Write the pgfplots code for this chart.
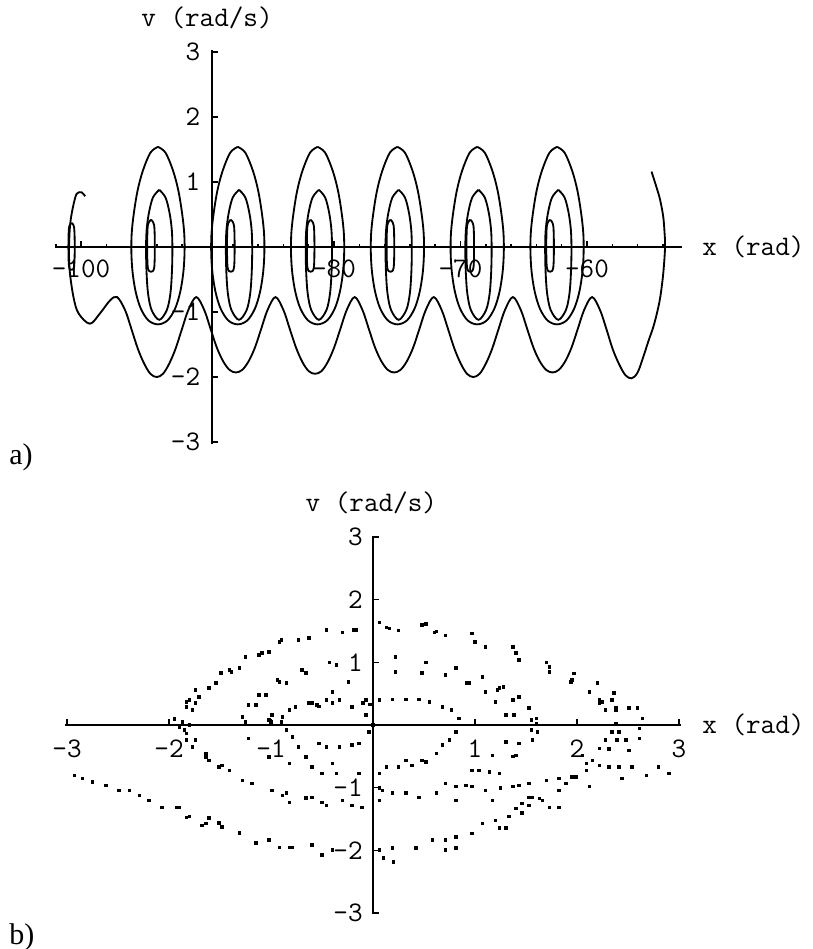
\documentclass[border=0pt]{standalone}
\usepackage{pgfplots}
\pgfplotsset{compat=1.18}
\usepackage{fontspec}
\setmainfont{Liberation Serif}
\newcommand{\lblfont}{\fontsize{17}{20}\selectfont\ttfamily}
\begin{document}
\begin{tikzpicture}
\path[use as bounding box] (0pt,0pt) rectangle (487.2pt,-569.4pt);
\pgfplotsset{
  phase/.style={
    scale only axis,
    axis lines=middle,
    axis line style={line width=1.5pt,-},
    tick style={line width=0.9pt,black},
    tick align=inside,
    major tick length=3.4pt,
    minor tick length=1.9pt,
    ticklabel style={font=\lblfont,inner sep=0pt},
    clip=false,
  },
  traj/.style={black,solid,line width=1.1pt,smooth,tension=0.55,mark=none},
}
% ---------------- panel a ----------------
\begin{axis}[phase,
  at={(33pt,-266.4pt)}, anchor=south west,
  width=376.2pt, height=236.4pt,
  x coord trafo/.code={\pgfmathparse{#1+89.64}},
  x coord inv trafo/.code={\pgfmathparse{#1-89.64}},
  xmin=-102.06, xmax=-52.49, ymin=-3.03, ymax=3.03,
  xtick={-100,-80,-70,-60},
  xticklabels={-100,-80,-70,-60},
  minor xtick={-102,-98,-96,-94,-92,-88,-86,-84,-82,-78,-76,-74,-72,-68,-66,-64,-62,-58,-56,-54},
  ytick={-3,-2,-1,1,2,3},
  yticklabels={-3,-2,-1,1,2,3},
  minor y tick num=4,
  xticklabel style={anchor=north,yshift=-7.5pt},
  yticklabel style={anchor=east,xshift=-7pt},
  xlabel={x (rad)}, ylabel={v (rad/s)},
  every axis x label/.style={at={(rel axis cs:1,0.5)},anchor=west,xshift=12pt,font=\lblfont,inner sep=0pt},
  every axis y label/.style={at={(rel axis cs:0.2504,1)},anchor=center,yshift=19.2pt,xshift=-3pt,font=\lblfont,inner sep=0pt},
]
% long trajectory: left hook, rotating wavy part, right arc
\addplot[traj] coordinates {
(-99.68,0.78) (-99.95,0.84) (-100.34,0.82) (-100.6,0.65) (-100.85,0.37) (-100.95,0) (-100.9,-0.36) (-100.6,-0.77) (-100.2,-1.02) (-99.3,-1.18) (-98.5,-1.02) (-97.7,-0.82) (-97.15,-0.77)
(-96.52,-0.97) (-96.02,-1.26) (-95.52,-1.56) (-95.02,-1.79) (-94.52,-1.95) (-94.02,-2.0) (-93.52,-1.95) (-93.02,-1.79) (-92.52,-1.56) (-92.02,-1.26) (-91.52,-0.97) (-90.89,-0.77)
(-90.26,-0.97) (-89.76,-1.26) (-89.26,-1.55) (-88.76,-1.76) (-88.26,-1.89) (-87.76,-1.93) (-87.26,-1.89) (-86.76,-1.76) (-86.26,-1.55) (-85.76,-1.26) (-85.26,-0.97) (-84.63,-0.77)
(-84.0,-0.97) (-83.5,-1.26) (-83.0,-1.55) (-82.5,-1.77) (-82.0,-1.91) (-81.5,-1.95) (-81.0,-1.91) (-80.5,-1.77) (-80.0,-1.55) (-79.5,-1.26) (-79.0,-0.97) (-78.37,-0.77)
(-77.75,-0.97) (-77.25,-1.26) (-76.75,-1.55) (-76.25,-1.76) (-75.75,-1.89) (-75.25,-1.93) (-74.75,-1.89) (-74.25,-1.76) (-73.75,-1.55) (-73.25,-1.26) (-72.75,-0.97) (-72.12,-0.77)
(-71.49,-0.97) (-70.99,-1.26) (-70.49,-1.56) (-69.99,-1.79) (-69.49,-1.95) (-68.99,-2.0) (-68.49,-1.95) (-67.99,-1.79) (-67.49,-1.56) (-66.99,-1.26) (-66.49,-0.97) (-65.86,-0.77)
(-65.23,-0.97) (-64.73,-1.26) (-64.23,-1.55) (-63.73,-1.76) (-63.23,-1.89) (-62.73,-1.93) (-62.23,-1.89) (-61.73,-1.76) (-61.23,-1.55) (-60.73,-1.26) (-60.23,-0.97) (-59.6,-0.77)
(-58.97,-0.97) (-58.47,-1.26) (-57.97,-1.57) (-57.47,-1.8) (-56.97,-1.97) (-56.47,-2.02) (-56.0,-1.93) (-55.55,-1.69) (-55.15,-1.45) (-54.76,-1.23) (-54.45,-1.0) (-54.2,-0.76) (-53.97,-0.40) (-53.83,0) (-53.88,0.25) (-53.97,0.46) (-54.15,0.66) (-54.35,0.82) (-54.9,1.16)
};
% left small loop
\addplot[traj] coordinates {(-100.75,0.37) (-100.55,0.3) (-100.5,0) (-100.55,-0.3) (-100.75,-0.35) (-100.95,-0.3) (-101.0,0) (-100.95,0.3) (-100.75,0.37)};
% cell 1
\addplot[traj] coordinates {(-93.92,1.54) (-93.32,1.45) (-92.72,1.17) (-92.30,0.86) (-92.00,0.5) (-91.84,0.2) (-91.82,-0.1) (-91.92,-0.4) (-92.17,-0.7) (-92.57,-0.95) (-93.17,-1.13) (-93.92,-1.19) (-94.67,-1.13) (-95.27,-0.95) (-95.67,-0.7) (-95.92,-0.4) (-96.02,-0.1) (-96.00,0.2) (-95.84,0.5) (-95.54,0.86) (-95.12,1.17) (-94.52,1.45) (-93.92,1.54)};
\addplot[traj] coordinates {(-93.82,0.88) (-93.32,0.76) (-93.00,0.52) (-92.82,0.25) (-92.78,-0.05) (-92.82,-0.4) (-92.94,-0.72) (-93.22,-0.97) (-93.82,-1.12) (-94.42,-0.97) (-94.70,-0.72) (-94.82,-0.4) (-94.86,-0.05) (-94.82,0.25) (-94.64,0.52) (-94.32,0.76) (-93.82,0.88)};
\addplot[traj] coordinates {(-94.47,0.42) (-94.22,0.33) (-94.17,0) (-94.22,-0.32) (-94.47,-0.38) (-94.72,-0.32) (-94.77,0) (-94.72,0.33) (-94.47,0.42)};
% cell 2
\addplot[traj] coordinates {(-87.61,1.54) (-87.01,1.45) (-86.41,1.17) (-85.99,0.86) (-85.69,0.5) (-85.53,0.2) (-85.51,-0.1) (-85.61,-0.4) (-85.86,-0.7) (-86.26,-0.95) (-86.86,-1.13) (-87.61,-1.19) (-88.36,-1.13) (-88.96,-0.95) (-89.36,-0.7) (-89.61,-0.4) (-89.71,-0.1) (-89.69,0.2) (-89.53,0.5) (-89.23,0.86) (-88.81,1.17) (-88.21,1.45) (-87.61,1.54)};
\addplot[traj] coordinates {(-87.51,0.88) (-87.01,0.76) (-86.69,0.52) (-86.51,0.25) (-86.47,-0.05) (-86.51,-0.4) (-86.63,-0.72) (-86.91,-0.97) (-87.51,-1.12) (-88.11,-0.97) (-88.39,-0.72) (-88.51,-0.4) (-88.55,-0.05) (-88.51,0.25) (-88.33,0.52) (-88.01,0.76) (-87.51,0.88)};
\addplot[traj] coordinates {(-88.16,0.42) (-87.91,0.33) (-87.86,0) (-87.91,-0.32) (-88.16,-0.38) (-88.41,-0.32) (-88.46,0) (-88.41,0.33) (-88.16,0.42)};
% cell 3
\addplot[traj] coordinates {(-81.30,1.54) (-80.70,1.45) (-80.10,1.17) (-79.68,0.86) (-79.38,0.5) (-79.22,0.2) (-79.20,-0.1) (-79.30,-0.4) (-79.55,-0.7) (-79.95,-0.95) (-80.55,-1.13) (-81.30,-1.19) (-82.05,-1.13) (-82.65,-0.95) (-83.05,-0.7) (-83.30,-0.4) (-83.40,-0.1) (-83.38,0.2) (-83.22,0.5) (-82.92,0.86) (-82.50,1.17) (-81.90,1.45) (-81.30,1.54)};
\addplot[traj] coordinates {(-81.20,0.88) (-80.70,0.76) (-80.38,0.52) (-80.20,0.25) (-80.16,-0.05) (-80.20,-0.4) (-80.32,-0.72) (-80.60,-0.97) (-81.20,-1.12) (-81.80,-0.97) (-82.08,-0.72) (-82.20,-0.4) (-82.24,-0.05) (-82.20,0.25) (-82.02,0.52) (-81.70,0.76) (-81.20,0.88)};
\addplot[traj] coordinates {(-81.85,0.42) (-81.60,0.33) (-81.55,0) (-81.60,-0.32) (-81.85,-0.38) (-82.10,-0.32) (-82.15,0) (-82.10,0.33) (-81.85,0.42)};
% cell 4
\addplot[traj] coordinates {(-74.99,1.54) (-74.39,1.45) (-73.79,1.17) (-73.37,0.86) (-73.07,0.5) (-72.91,0.2) (-72.89,-0.1) (-72.99,-0.4) (-73.24,-0.7) (-73.64,-0.95) (-74.24,-1.13) (-74.99,-1.19) (-75.74,-1.13) (-76.34,-0.95) (-76.74,-0.7) (-76.99,-0.4) (-77.09,-0.1) (-77.07,0.2) (-76.91,0.5) (-76.61,0.86) (-76.19,1.17) (-75.59,1.45) (-74.99,1.54)};
\addplot[traj] coordinates {(-74.89,0.88) (-74.39,0.76) (-74.07,0.52) (-73.89,0.25) (-73.85,-0.05) (-73.89,-0.4) (-74.01,-0.72) (-74.29,-0.97) (-74.89,-1.12) (-75.49,-0.97) (-75.77,-0.72) (-75.89,-0.4) (-75.93,-0.05) (-75.89,0.25) (-75.71,0.52) (-75.39,0.76) (-74.89,0.88)};
\addplot[traj] coordinates {(-75.54,0.42) (-75.29,0.33) (-75.24,0) (-75.29,-0.32) (-75.54,-0.38) (-75.79,-0.32) (-75.84,0) (-75.79,0.33) (-75.54,0.42)};
% cell 5
\addplot[traj] coordinates {(-68.68,1.54) (-68.08,1.45) (-67.48,1.17) (-67.06,0.86) (-66.76,0.5) (-66.60,0.2) (-66.58,-0.1) (-66.68,-0.4) (-66.93,-0.7) (-67.33,-0.95) (-67.93,-1.13) (-68.68,-1.19) (-69.43,-1.13) (-70.03,-0.95) (-70.43,-0.7) (-70.68,-0.4) (-70.78,-0.1) (-70.76,0.2) (-70.60,0.5) (-70.30,0.86) (-69.88,1.17) (-69.28,1.45) (-68.68,1.54)};
\addplot[traj] coordinates {(-68.58,0.88) (-68.08,0.76) (-67.76,0.52) (-67.58,0.25) (-67.54,-0.05) (-67.58,-0.4) (-67.70,-0.72) (-67.98,-0.97) (-68.58,-1.12) (-69.18,-0.97) (-69.46,-0.72) (-69.58,-0.4) (-69.62,-0.05) (-69.58,0.25) (-69.40,0.52) (-69.08,0.76) (-68.58,0.88)};
\addplot[traj] coordinates {(-69.23,0.42) (-68.98,0.33) (-68.93,0) (-68.98,-0.32) (-69.23,-0.38) (-69.48,-0.32) (-69.53,0) (-69.48,0.33) (-69.23,0.42)};
% cell 6
\addplot[traj] coordinates {(-62.37,1.54) (-61.77,1.45) (-61.17,1.17) (-60.75,0.86) (-60.45,0.5) (-60.29,0.2) (-60.27,-0.1) (-60.37,-0.4) (-60.62,-0.7) (-61.02,-0.95) (-61.62,-1.13) (-62.37,-1.19) (-63.12,-1.13) (-63.72,-0.95) (-64.12,-0.7) (-64.37,-0.4) (-64.47,-0.1) (-64.45,0.2) (-64.29,0.5) (-63.99,0.86) (-63.57,1.17) (-62.97,1.45) (-62.37,1.54)};
\addplot[traj] coordinates {(-62.27,0.88) (-61.77,0.76) (-61.45,0.52) (-61.27,0.25) (-61.23,-0.05) (-61.27,-0.4) (-61.39,-0.72) (-61.67,-0.97) (-62.27,-1.12) (-62.87,-0.97) (-63.15,-0.72) (-63.27,-0.4) (-63.31,-0.05) (-63.27,0.25) (-63.09,0.52) (-62.77,0.76) (-62.27,0.88)};
\addplot[traj] coordinates {(-62.92,0.42) (-62.67,0.33) (-62.62,0) (-62.67,-0.32) (-62.92,-0.38) (-63.17,-0.32) (-63.22,0) (-63.17,0.33) (-62.92,0.42)};
\end{axis}
% ---------------- panel b ----------------
\begin{axis}[phase,
  at={(39pt,-548.64pt)}, anchor=south west,
  width=369.6pt, height=227.28pt,
  xmin=-3.02, xmax=3.02, ymin=-3.02, ymax=3.02,
  xtick={-3,-2,-1,1,2,3},
  xticklabels={-3,-2,-1,1,2,3},
  ytick={-3,-2,-1,1,2,3},
  yticklabels={-3,-2,-1,1,2,3},
  minor x tick num=4, minor y tick num=4,
  xticklabel style={anchor=north,yshift=-8.5pt},
  yticklabel style={anchor=east,xshift=-6pt},
  xlabel={x (rad)}, ylabel={v (rad/s)},
  every axis x label/.style={at={(rel axis cs:1,0.5)},anchor=west,xshift=12.6pt,font=\lblfont,inner sep=0pt},
  every axis y label/.style={at={(rel axis cs:0.5,1)},anchor=center,yshift=19.6pt,xshift=-1pt,font=\lblfont,inner sep=0pt},
]
\addplot[only marks, mark=square*, mark size=0.75pt, black] coordinates {
(-2.93,-0.8) (-2.85,-0.85) (-2.75,-0.91) (-2.62,-0.96) (-2.49,-1.04) (-2.39,-1.04) (-2.29,-1.12) (-2.2,-1.2) (-2.07,-1.31) (-1.93,-1.31) (-1.83,-1.47) (-1.68,-1.6) (-1.61,-1.48) (-1.51,-1.56) (-1.31,-1.72) (-1.15,-1.88) (-1.02,-1.83) (-0.82,-1.95) (-0.6,-1.91) (-0.5,-2.07) (-0.4,-1.99) (-0.92,-1.95) (-0.79,-1.95) (-1.48,-1.62) (-1.64,-1.57) (-1.8,-1.46) (-1.9,-1.31)
(0.06,-1.99) (0.19,-1.96) (0.42,-1.96) (0.58,-1.83) (0.71,-1.83) (0.81,-1.78) (0.81,-1.96) (0.97,-1.73) (1.07,-1.57) (1.2,-1.52) (1.33,-1.46) (1.4,-1.33) (1.46,-1.25) (1.56,-1.15) (1.66,-1.2) (1.82,-1.31) (0.71,-1.99) (1.24,-1.64) (1.3,-1.64) (1.46,-1.4) (1.53,-1.28) (1.73,-1.31) (0.1,-2.12) (0.2,-2.18)
(1.82,-0.85) (1.95,-0.83) (2.09,-0.72) (2.22,-0.64) (2.31,-0.67) (2.41,-0.67) (2.44,-0.85) (2.54,-0.67) (2.68,-0.8) (2.8,-0.67) (2.9,-0.77) (2.12,-0.98) (1.82,-1.04) (1.7,-0.88) (1.89,-0.93) (1.99,-0.83)
(-1.83,-0.13) (-1.74,-0.24) (-1.64,-0.51) (-1.51,-0.67) (-1.41,-0.72) (-1.28,-0.88) (-1.19,-0.93) (-0.99,-1.04) (-0.85,-1.08) (-0.66,-1.16) (-0.6,-1.15) (-0.5,-1.23) (-0.3,-1.2) (-0.21,-1.28) (-0.11,-1.31) (-1.83,-0.24) (-1.77,-0.35) (-1.64,-0.45) (-1.61,-0.56) (-1.48,-0.64) (-0.89,-1.12) (-0.82,-1.23) (-0.46,-1.28)
(0.06,-1.2) (0.09,-1.04) (0.19,-1.08) (0.32,-1.08) (0.45,-1.15) (0.62,-1.08) (0.71,-0.93) (0.81,-0.98) (0.81,-1.2) (0.91,-0.96) (0.97,-0.98) (1.1,-1.04) (1.17,-1.2) (1.25,-1.0) (1.37,-0.98) (1.43,-0.96) (1.53,-1.15) (1.53,-0.93) (1.63,-1.17) (0.06,-1.0)
(-1.22,-0.21) (-1.02,-0.51) (-0.82,-0.61) (-0.66,-0.51) (-0.6,-0.67) (-0.5,-0.77) (-0.4,-0.61) (-0.36,-0.77) (-0.14,-0.77) (0.06,-0.77)
(-0.82,0.24) (-0.89,0.13) (-0.76,0.29) (-0.6,0.35) (-0.53,0.3) (-0.46,0.4) (-0.33,0.4) (-0.21,0.29) (-0.07,0.4) (0.06,0.4) (0.19,0.41) (0.32,0.41) (0.45,0.41) (0.55,0.37) (0.68,0.29) (0.77,0.24) (0.84,0.11) (0.81,-0.11) (0.75,-0.24) (0.68,-0.32) (0.62,-0.45) (0.52,-0.59) (0.38,-0.64) (0.25,-0.67) (0.13,-0.67) (0.48,-0.56) (0.32,-0.56) (-0.14,-0.29) (-0.21,-0.32) (-0.33,-0.35) (-0.46,-0.35) (-0.53,-0.29) (-0.73,-0.35) (-0.79,-0.19) (-0.85,-0.08) (-0.63,0.35) (-0.4,0.35) (-0.1,0.35) (-0.03,0.33) (-0.9,0.05) (-1.0,0.05) (-1.25,0.05) (-0.07,0.16) (-0.04,-0.11) (0,0) (-0.55,0.32)
(0.22,1.09) (0.22,0.85) (0.52,1.0) (0.48,0.83) (0.71,0.8) (0.81,0.91) (0.94,0.67) (1.07,0.77) (1.1,0.53) (1.24,0.59) (1.2,0.37) (1.37,0.4) (1.43,0.45) (1.3,0.16) (1.38,0.16) (1.53,0.27) (1.6,0.11) (1.55,0.08) (1.6,0.03) (1.61,-0.11) (1.55,-0.08) (1.56,-0.24) (1.43,-0.29) (1.3,-0.27) (1.17,-0.48) (1.37,-0.5) (1.4,-0.48) (1.04,-0.72) (1.14,-0.75) (1.24,-0.77) (0.97,-0.72) (0.92,0.67) (1.28,0.61) (1.22,0.56)
(0.06,1.64) (0.16,1.54) (0.25,1.51) (0.52,1.61) (0.62,1.49) (0.71,1.43) (0.97,1.46) (1.0,1.33) (1.1,1.25) (1.37,1.25) (1.4,1.15) (1.43,1.04) (1.7,1.0) (1.73,0.93) (1.95,0.72) (1.73,0.85) (1.97,0.82) (1.94,0.69) (2.12,0.53) (2.2,0.67) (2.36,0.51) (2.25,0.37) (2.22,0.4) (2.38,0.27) (2.59,0.27) (0.13,1.56) (0.48,1.6) (0.6,1.48)
(2.22,0.35) (2.34,0.4) (2.28,0.24) (2.38,0.24) (2.51,0.27) (2.64,0.11) (2.38,0.03) (2.34,-0.11) (2.41,-0.11) (2.61,-0.05) (2.28,-0.24) (2.39,-0.24) (2.48,-0.24) (2.61,-0.21) (2.22,-0.37) (2.31,-0.38) (2.51,-0.4) (2.15,-0.56) (2.09,-0.61) (2.05,-0.48)
(-1.83,0.37) (-1.74,0.56) (-1.71,0.45) (-1.61,0.59) (-1.54,0.67) (-1.49,0.83) (-1.39,0.85) (-1.31,0.91) (-1.25,1.09) (-1.12,1.12) (-1.02,1.17) (-0.9,1.36) (-0.73,1.36) (-0.63,1.39) (-0.46,1.52) (-0.3,1.48) (-0.17,1.52) (-1.8,0.4) (-1.83,0.29) (-1.41,0.88) (-1.09,1.15) (-0.92,1.33) (-0.19,1.52)
(-1.87,0.05) (-1.8,0) (-1.9,-0.03) (-1.77,0.24) (-1.74,0.35) (-1.95,0.1) (-1.85,-0.08)
(-0.43,1.0) (-0.36,0.96) (-0.7,0.88) (-0.66,0.83) (-0.94,0.72) (-0.85,0.67) (-1.12,0.48) (-1.05,0.48) (-0.24,0.69) (-0.4,0.53) (-1.22,0.32) (-1.15,0.32) (-1.28,0.13) (-1.02,0.08) (-0.99,0.16) (-0.92,0.69)
};
\end{axis}
\node[anchor=base west,inner sep=0pt,font=\fontsize{18}{21}\selectfont] at (5.4pt,-278.4pt) {a)};
\node[anchor=base west,inner sep=0pt,font=\fontsize{18}{21}\selectfont] at (5.4pt,-566.4pt) {b)};
\end{tikzpicture}
\end{document}
